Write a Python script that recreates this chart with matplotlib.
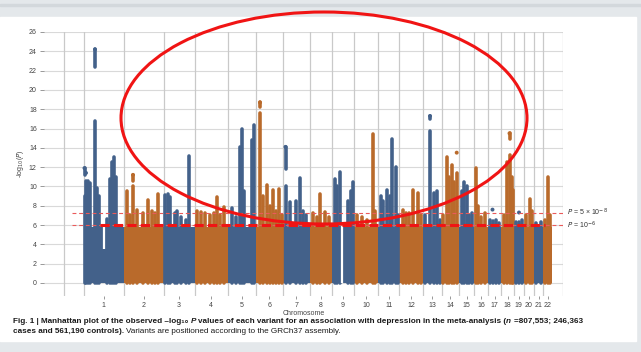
import numpy as np
import matplotlib.pyplot as plt
from matplotlib.patches import Ellipse, Rectangle

plt.rcParams['font.family'] = ['Liberation Sans', 'DejaVu Sans']

# chromosome data (relative size of each chromosome along x)
chroms = [str(i) for i in range(1, 23)]
chrom_size = [39.5, 40, 31.1, 33.1, 27.8, 27.5, 26.5, 22.5, 22, 23.8, 21.6,
              23.3, 18.8, 17.5, 15, 14.3, 13, 12.4, 10.3, 9.7, 9.6, 8.7]
band_top = 5.8   # dense cloud of non significant variants

# peak columns: chromosome, offset inside chromosome, top -log10(P)
peak_chr = [1, 1, 1, 1, 1, 1, 1, 1, 1, 1, 1, 1,
            2, 2, 2, 2, 2, 2, 2, 2, 2,
            3, 3, 3, 3, 3, 3, 3, 3,
            4, 4, 4, 4, 4, 4, 4, 4,
            5, 5, 5, 5, 5, 5, 5,
            6, 6, 6, 6, 6, 6, 6, 6,
            7, 7, 7, 7, 7, 7,
            8, 8, 8, 8, 8,
            9, 9, 9, 9, 9, 9,
            10, 10, 10, 10, 10,
            11, 11, 11, 11, 11, 11, 11,
            12, 12, 12, 12, 12, 12,
            13, 13, 13, 13, 13,
            14, 14, 14, 14, 14, 14,
            15, 15, 15, 15, 15,
            16, 16, 16, 16,
            17, 17, 17, 17,
            18, 18, 18, 18, 18,
            19, 19, 19,
            20, 20, 20,
            21, 21,
            22, 22, 22]
peak_pos = [0.5, 2, 4, 6, 11, 13, 15, 23, 26, 28, 30, 32,
            3.5, 6.5, 9.5, 13.5, 19, 24.5, 28.5, 31.5, 34.5,
            1.5, 4.5, 6.5, 11.5, 13.5, 17.5, 22.5, 25.5,
            2.4, 6.4, 10.4, 15.4, 19.4, 21.9, 25.4, 29.4,
            3.8, 8.3, 12.3, 13.8, 16.3, 24.3, 25.8,
            4.5, 7.5, 11, 14.5, 17.5, 20.5, 23.5, 26.5,
            2.5, 7, 13, 17, 20, 23,
            3.5, 7.5, 10.5, 15.5, 19.5,
            3, 5, 7.5, 16, 19, 20.5,
            3, 8, 13, 19, 21,
            2.7, 5.2, 9.2, 12.2, 14.2, 17.7, 20.2,
            3.6, 6.6, 9.6, 13.6, 18.6, 21.6,
            2.3, 7.3, 10.8, 14.3, 17.3,
            1.5, 5, 7.5, 10.8, 12.5, 15.2,
            3, 4.5, 7.5, 10, 12.7,
            2, 4, 7, 11,
            1.7, 4.2, 7.7, 10.7,
            2.7, 5.2, 8.2, 10.2, 11.7,
            2.3, 5.3, 8.3,
            2, 6, 8,
            2.3, 7.3,
            1.7, 5, 6.7]
peak_top = [9.0, 10.6, 10.6, 10.4, 16.8, 9.8, 9.0, 6.6, 10.8, 12.5, 13.0, 11.0,
            9.5, 7.0, 10.0, 7.6, 7.3, 8.6, 7.5, 7.3, 9.2,
            9.1, 9.2, 8.9, 7.2, 7.5, 6.8, 6.5, 13.2,
            7.5, 7.4, 7.2, 7.0, 7.3, 8.9, 7.0, 7.9,
            7.8, 6.8, 14.1, 15.9, 9.5, 14.8, 16.4,
            17.6, 9.0, 10.2, 8.0, 9.6, 7.5, 9.7, 7.0,
            10.0, 8.4, 8.5, 10.9, 7.5, 7.0,
            7.3, 6.8, 9.2, 7.4, 6.8,
            10.8, 10.0, 11.5, 8.5, 9.5, 10.5,
            7.0, 6.8, 6.5, 15.4, 7.5,
            9.0, 8.5, 9.6, 9.0, 14.9, 12.0, 7.0,
            7.6, 7.2, 7.2, 9.6, 9.3, 7.0,
            7.0, 15.7, 9.3, 9.5, 6.5,
            7.0, 13.0, 11.0, 12.2, 10.5, 11.4,
            9.5, 10.5, 10.0, 7.0, 7.3,
            11.9, 8.0, 6.8, 7.3,
            6.5, 6.4, 6.5, 6.2,
            7.0, 12.5, 13.3, 11.0, 9.6,
            6.3, 6.3, 6.5,
            7.0, 8.7, 7.5,
            6.2, 6.3,
            6.5, 11.0, 7.0]

# isolated variants sitting above the columns
spot_chr = [1, 1, 1, 2, 6, 7, 13, 14, 17, 18, 19]
spot_pos = [0.5, 2, 11, 9.5, 4.5, 2.5, 7.3, 15.2, 4.2, 8.2, 5.3]
spot_lo = [11.2, 11.4, 22.4, 10.6, 18.2, 11.8, 17.0, 13.5, 7.6, 14.9, 7.3]
spot_hi = [11.9, 11.4, 24.2, 11.2, 18.7, 14.1, 17.3, 13.5, 7.6, 15.5, 7.3]

# sparse stretches inside the dense cloud
gap_chr = [1, 9]
gap_pos = [20, 10]
gap_lo = [3.5, 0]

p_lines = [7.3, 6.0]
p_labels = [r'$P$ = 5 × 10$^{-8}$', r'$P$ = 10$^{-6}$']

blue = '#43618a'
orange = '#b96a2b'

W, H = 641, 352


def fx(px):
    return px / W


def fy(py):
    return 1 - py / H


fig = plt.figure(figsize=(W / 100, H / 100), dpi=100, facecolor='#e4e8eb')
fig.patches.append(Rectangle((0, fy(341)), fx(636), fy(17) - fy(341),
                             transform=fig.transFigure, color='white', zorder=-2))
fig.patches.append(Rectangle((0, fy(5.5)), 1, 0.004, transform=fig.transFigure,
                             color='#d3d8dc', zorder=-2))

ax = fig.add_axes([fx(44), fy(296), fx(563) - fx(44), fy(32) - fy(296)])
ax.set_facecolor('none')

starts = 20 + np.concatenate([[0], np.cumsum(chrom_size)[:-1]])
centers = starts + np.array(chrom_size) / 2
colors = [blue if i % 2 == 0 else orange for i in range(22)]

# grid
for y in range(0, 27, 2):
    ax.axhline(y, color='#d9d9d9', lw=0.8, zorder=0)
for x in np.concatenate([[0], starts, [499]]):
    ax.axvline(x, color='#c9c9c9', lw=0.9, zorder=0)

ax.bar(starts, band_top, width=chrom_size, align='edge', color=colors, zorder=2)

px = [starts[c - 1] + p for c, p in zip(peak_chr, peak_pos)]
pc = [colors[c - 1] for c in peak_chr]
ax.vlines(px, 0, peak_top, colors=pc, lw=2.6, capstyle='round', zorder=2)

sx = [starts[c - 1] + p for c, p in zip(spot_chr, spot_pos)]
sc = [colors[c - 1] for c in spot_chr]
ax.vlines(sx, spot_lo, spot_hi, colors=sc, lw=2.6, capstyle='round', zorder=2)
ax.scatter(sx, spot_hi, s=8, c=sc, zorder=2, linewidths=0)

gx = [starts[c - 1] + p for c, p in zip(gap_chr, gap_pos)]
ax.vlines(gx, gap_lo, band_top + 0.1, colors='white', lw=1.6, zorder=2)

for y, lab in zip(p_lines, p_labels):
    ax.plot([8, 499], [y, y], color='#ea5a5a', lw=0.8, dashes=(3.5, 2.5), zorder=3)
    ax.text(503, y, lab, fontsize=5, color='#333333', va='center', clip_on=False)

# highlight added on the screenshot
ax.plot([36, 481], [6, 6], color='#f01414', lw=2.2, dashes=(3, 1.4), zorder=4)

ax.set_xlim(-20, 499)
ax.set_ylim(-1.35, 26)
ax.set_yticks(range(0, 27, 2))
ax.set_xticks(centers)
ax.set_xticklabels(chroms)
ax.tick_params(axis='y', length=3.2, width=0.6, color='#888888', labelsize=5,
               labelcolor='#444444', pad=2)
ax.tick_params(axis='x', length=2, width=0.6, color='#888888', labelsize=5,
               labelcolor='#444444', pad=2)
for s in ax.spines.values():
    s.set_visible(False)
ax.set_xlabel('Chromosome', fontsize=5, color='#444444', labelpad=1)
fig.text(fx(21), fy(164), r'-log$_{10}$($P$)', rotation=90, fontsize=5,
         color='#444444', ha='center', va='center')

fig.add_artist(Ellipse((fx(324), fy(118)), fx(406), 212 / H,
                       transform=fig.transFigure, fill=False,
                       edgecolor='#f01414', lw=2.2, zorder=10))


def caption(parts, x, y):
    prev = fig.text(fx(x), fy(y), parts[0][0], fontsize=5.85, fontweight=parts[0][1],
                    fontstyle=parts[0][2], color='#1a1a1a', va='baseline')
    for txt, wt, st, gap in parts[1:]:
        prev = fig.add_artist(plt.Annotation(txt, xy=(1, 0), xycoords=prev,
                                             xytext=(gap, 0), textcoords='offset points',
                                             va='bottom', ha='left', fontsize=5.85,
                                             fontweight=wt, fontstyle=st,
                                             color='#1a1a1a', annotation_clip=False))


caption([('Fig. 1 | Manhattan plot of the observed \u2013log\u2081\u2080', 'bold', 'normal'),
         ('P', 'bold', 'italic', 1.6),
         ('values of each variant for an association with depression in the meta-analysis (',
          'bold', 'normal', 1.6),
         ('n', 'bold', 'italic', 0),
         ('=807,553; 246,363', 'bold', 'normal', 1.6)], 13, 323)
caption([('cases and 561,190 controls).', 'bold', 'normal'),
         ('Variants are positioned according to the GRCh37 assembly.', 'normal',
          'normal', 1.6)], 13, 333)

plt.savefig('out.png', dpi=100, facecolor=fig.get_facecolor())
